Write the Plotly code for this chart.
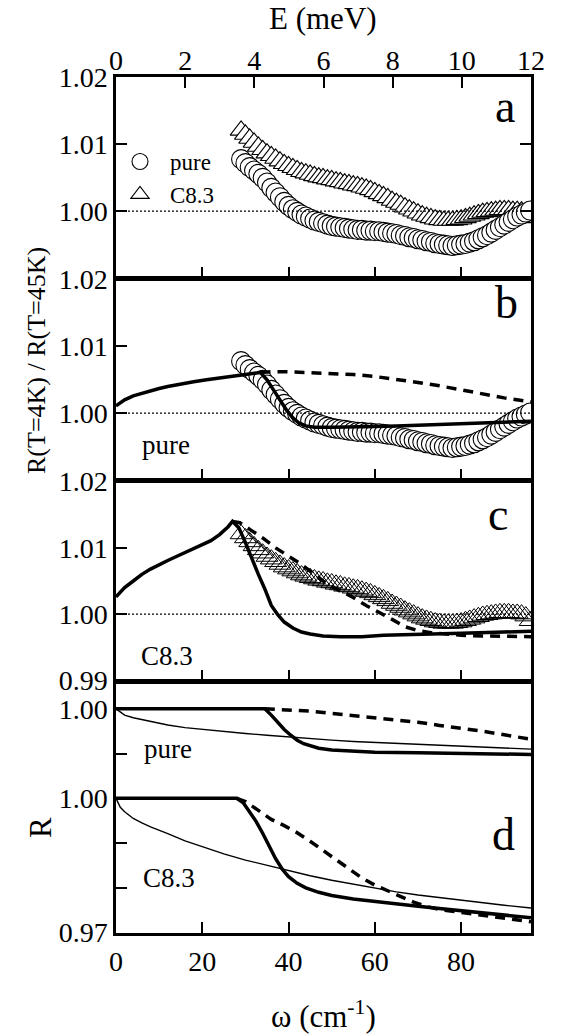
import plotly.graph_objects as go

# ---------------- data ----------------
# experimental ratio R(4K)/R(45K), omega in cm^-1
W_EXP = [29, 30, 31, 32, 33, 34, 35, 36, 37, 38, 39, 40, 41, 42, 43, 44, 45, 46, 47, 48,
         49, 50, 51, 52, 53, 54, 55, 56, 57, 58, 59, 60, 61, 62, 63, 64, 65, 66, 67, 68,
         69, 70, 71, 72, 73, 74, 75, 76, 77, 78, 79, 80, 81, 82, 83, 84, 85, 86, 87, 88,
         89, 90, 91, 92, 93, 94, 95, 96]
R_PURE = [1.0078, 1.0072, 1.0066, 1.0061, 1.0056, 1.0050, 1.0043, 1.0035, 1.0028, 1.0021,
          1.0014, 1.0008, 1.0003, 0.9999, 0.9995, 0.9992, 0.9989, 0.9986, 0.9984, 0.9982,
          0.9980, 0.9978, 0.9977, 0.9976, 0.9975, 0.9974, 0.9973, 0.9972, 0.9972, 0.9971,
          0.9971, 0.9970, 0.9970, 0.9969, 0.9968, 0.9967, 0.9966, 0.9964, 0.9963, 0.9961,
          0.9960, 0.9958, 0.9957, 0.9955, 0.9954, 0.9952, 0.9951, 0.9950, 0.9949, 0.9948,
          0.9949, 0.9950, 0.9951, 0.9953, 0.9955, 0.9958, 0.9961, 0.9964, 0.9968, 0.9972,
          0.9976, 0.9980, 0.9984, 0.9988, 0.9992, 0.9995, 0.9998, 1.0001]
R_C83 = [1.0121, 1.0115, 1.0109, 1.0103, 1.0097, 1.0092, 1.0087, 1.0083, 1.0079, 1.0075,
         1.0071, 1.0068, 1.0065, 1.0062, 1.0059, 1.0057, 1.0055, 1.0053, 1.0051, 1.0050,
         1.0048, 1.0047, 1.0045, 1.0044, 1.0042, 1.0041, 1.0039, 1.0038, 1.0036, 1.0034,
         1.0032, 1.0029, 1.0026, 1.0023, 1.0020, 1.0016, 1.0013, 1.0010, 1.0006, 1.0003,
         1.0000, 0.9997, 0.9994, 0.9992, 0.9990, 0.9988, 0.9987, 0.9986, 0.9986, 0.9986,
         0.9987, 0.9988, 0.9990, 0.9992, 0.9994, 0.9996, 0.9998, 0.9999, 1.0000, 1.0001,
         1.0002, 1.0002, 1.0002, 1.0001, 1.0001, 1.0000, 0.9997, 0.9990]

# panel b model (pure)
W_B_SOLID = [0, 2, 4, 6, 8, 10, 12, 15, 18, 21, 24, 27, 30, 33.5, 35, 36.5, 38, 39.5, 41,
             42.5, 44, 46, 50, 55, 60, 65, 70, 75, 80, 85, 90, 96.2]
R_B_SOLID = [1.0011, 1.0020, 1.0026, 1.0030, 1.0034, 1.0037, 1.0040, 1.0044, 1.0047, 1.0050,
             1.0053, 1.0055, 1.0058, 1.0061, 1.0050, 1.0035, 1.0019, 1.0005, 0.9993,
             0.9985, 0.9981, 0.9979, 0.9979, 0.9979, 0.9980, 0.9981, 0.9982, 0.9983, 0.9985,
             0.9986, 0.9987, 0.9988]
W_B_DASH = [33.5, 36, 40, 45, 50, 55, 60, 65, 70, 75, 80, 85, 90, 96.2]
R_B_DASH = [1.0061, 1.0062, 1.0062, 1.0061, 1.0060, 1.0058, 1.0055, 1.0051, 1.0046, 1.0041,
            1.0035, 1.0029, 1.0023, 1.0017]

# panel c model (C8.3)
W_C_SOLID = [0, 2, 4, 6, 8, 10, 12, 14, 16, 18, 20, 22, 24, 26, 27, 28.5, 30, 31.5, 33,
             34.5, 36, 37.5, 39, 41, 43, 45, 48, 52, 57, 62, 70, 80, 90, 96.2]
R_C_SOLID = [1.0026, 1.0040, 1.0050, 1.0060, 1.0068, 1.0075, 1.0081, 1.0087, 1.0093, 1.0099,
             1.0105, 1.0111, 1.0120, 1.0132, 1.0140, 1.0130, 1.0108, 1.0083, 1.0060,
             1.0038, 1.0013, 0.9999, 0.9988, 0.9979, 0.9973, 0.9970, 0.9967, 0.9966, 0.9966,
             0.9968, 0.9969, 0.9971, 0.9973, 0.9974]
W_C_DASH = [27, 28.7, 31, 34, 37, 40, 43, 46, 49, 52, 55, 58, 61, 64, 67, 70, 73, 76, 80,
            85, 90, 96.2]
R_C_DASH = [1.0140, 1.0138, 1.0128, 1.0115, 1.0100, 1.0088, 1.0075, 1.0060, 1.0045, 1.0035,
            1.0025, 1.0013, 1.0003, 0.9992, 0.9981, 0.9975, 0.9972, 0.9970, 0.9968, 0.9967,
            0.9966, 0.9966]

# panel d: reflectivity R
W_D_PURE_N = [0, 1, 2, 4, 6, 8, 12, 16, 20, 25, 30, 35, 40, 45, 50, 55, 60, 65, 70, 75, 80,
              85, 90, 96.2]
R_D_PURE_N = [1.0000, 0.9992, 0.9986, 0.9980, 0.9976, 0.9972, 0.9964, 0.9958, 0.9954, 0.9949,
              0.9945, 0.9941, 0.9937, 0.9933, 0.9930, 0.9927, 0.9925, 0.9922, 0.9920, 0.9918,
              0.9917, 0.9915, 0.9912, 0.9910]
W_D_PURE_S = [0, 34.5, 36, 37.5, 39, 40.5, 42, 43.5, 45, 47, 50, 55, 60, 70, 80, 90, 96.2]
R_D_PURE_S = [1.0000, 1.0000, 0.9986, 0.9970, 0.9954, 0.9941, 0.9930, 0.9922, 0.9917, 0.9912,
              0.9908, 0.9905, 0.9903, 0.9902, 0.9900, 0.9899, 0.9898]
W_D_PURE_D = [34.5, 40, 45, 50, 55, 60, 65, 70, 75, 80, 85, 90, 96.2]
R_D_PURE_D = [1.0000, 0.9998, 0.9995, 0.9990, 0.9985, 0.9980, 0.9975, 0.9970, 0.9963, 0.9957,
              0.9950, 0.9942, 0.9932]
W_D_C83_N = [0, 0.5, 1, 2, 4, 6, 8, 12, 16, 20, 25, 30, 35, 40, 45, 50, 55, 60, 65, 70, 75,
             80, 85, 90, 96.2]
R_D_C83_N = [1.0000, 0.9988, 0.9980, 0.9970, 0.9955, 0.9945, 0.9936, 0.9921, 0.9905, 0.9892,
             0.9876, 0.9862, 0.9850, 0.9838, 0.9827, 0.9817, 0.9808, 0.9799, 0.9791, 0.9784,
             0.9778, 0.9772, 0.9767, 0.9761, 0.9755]
W_D_C83_S = [0, 28, 29.5, 31, 32.5, 34, 35.5, 37, 38.5, 40, 42, 44, 47, 50, 55, 60, 65, 70,
             75, 80, 85, 90, 96.2]
R_D_C83_S = [1.0000, 1.0000, 0.9990, 0.9970, 0.9948, 0.9922, 0.9893, 0.9865, 0.9842, 0.9825,
             0.9810, 0.9800, 0.9790, 0.9783, 0.9775, 0.9769, 0.9764, 0.9759, 0.9754, 0.9749,
             0.9744, 0.9739, 0.9733]
W_D_C83_D = [28, 30, 33, 36, 39, 42, 45, 48, 51, 54, 57, 60, 63, 66, 69, 72, 76, 80, 85, 90,
             96.2]
R_D_C83_D = [1.0000, 0.9993, 0.9973, 0.9953, 0.9939, 0.9923, 0.9904, 0.9884, 0.9862, 0.9842,
             0.9822, 0.9806, 0.9793, 0.9781, 0.9768, 0.9758, 0.9750, 0.9745, 0.9739, 0.9732,
             0.9724]
PURE_OFFSET = 0.02  # pure curves shifted up in panel d

X_TICKS = [0, 20, 40, 60, 80]
E_TICKS = [0, 2, 4, 6, 8, 10, 12]
W_MAX = 96.2
E_MAX = 12

# ---------------- layout helpers ----------------
FONT = "Liberation Serif, Times New Roman, Times, DejaVu Serif, serif"
WID, HEI = 561, 1036
L, R, T, B = 116, 531, 77, 933
PW, PH = R - L, B - T


def pxx(x):
    return (x - L) / PW


def pxy(y):
    return (B - y) / PH


fig = go.Figure()

THICK = 3.5
THIN = 1.4
DASH = "10px,7px"
MSIZE = 19


def line(x, y, xa, ya, width=THICK, dash="solid"):
    fig.add_trace(go.Scatter(x=x, y=y, mode="lines", xaxis=xa, yaxis=ya, showlegend=False,
                             line=dict(color="black", width=width, dash=dash),
                             hoverinfo="skip"))


# panel a
fig.add_trace(go.Scatter(x=W_EXP, y=R_C83, mode="markers", name="C8.3", xaxis="x", yaxis="y",
                         legendrank=2,
                         marker=dict(symbol="triangle-up", size=MSIZE, color="white",
                                     line=dict(color="black", width=1.1))))
fig.add_trace(go.Scatter(x=W_EXP, y=R_PURE, mode="markers", name="pure", xaxis="x", yaxis="y",
                         legendrank=1,
                         marker=dict(symbol="circle", size=MSIZE, color="white",
                                     line=dict(color="black", width=1.1))))
# invisible trace to register the top energy axis
fig.add_trace(go.Scatter(x=E_TICKS, y=[None] * len(E_TICKS), mode="markers", xaxis="x5",
                         yaxis="y", showlegend=False, hoverinfo="skip"))
# panel b
fig.add_trace(go.Scatter(x=W_EXP, y=R_PURE, mode="markers", xaxis="x2", yaxis="y2",
                         showlegend=False,
                         marker=dict(symbol="circle", size=MSIZE, color="white",
                                     line=dict(color="black", width=1.1))))
line(W_B_DASH, R_B_DASH, "x2", "y2", dash=DASH)
line(W_B_SOLID, R_B_SOLID, "x2", "y2")
# panel c
fig.add_trace(go.Scatter(x=W_EXP, y=R_C83, mode="markers", xaxis="x3", yaxis="y3",
                         showlegend=False,
                         marker=dict(symbol="triangle-up-open", size=MSIZE, color="black",
                                     line=dict(color="black", width=1.0))))
line(W_C_DASH, R_C_DASH, "x3", "y3", dash=DASH)
line(W_C_SOLID, R_C_SOLID, "x3", "y3")
# panel d
line(W_D_PURE_N, [v + PURE_OFFSET for v in R_D_PURE_N], "x4", "y4", width=THIN)
line(W_D_PURE_D, [v + PURE_OFFSET for v in R_D_PURE_D], "x4", "y4", dash=DASH)
line(W_D_PURE_S, [v + PURE_OFFSET for v in R_D_PURE_S], "x4", "y4")
line(W_D_C83_N, R_D_C83_N, "x4", "y4", width=THIN)
line(W_D_C83_D, R_D_C83_D, "x4", "y4", dash=DASH)
line(W_D_C83_S, R_D_C83_S, "x4", "y4")

AX = dict(showline=True, linecolor="black", linewidth=2.5, showgrid=False, zeroline=False,
          ticks="inside", ticklen=11, tickwidth=2, tickcolor="black",
          tickfont=dict(family=FONT, size=28, color="black"))

domains = {
    "": [pxy(278), 1.0],
    "2": [pxy(480), pxy(279)],
    "3": [pxy(681), pxy(481)],
    "4": [0.0, pxy(682)],
}
for k, dom in domains.items():
    fig.layout["xaxis" + k] = dict(AX, domain=[0, 1], anchor="y" + k, range=[0, W_MAX],
                                   tickvals=X_TICKS if k == "4" else X_TICKS[1:],
                                   showticklabels=(k == "4"), mirror=True,
                                   ticklabelstandoff=2)

fig.layout["xaxis5"] = dict(AX, overlaying="x", anchor="y", side="top", range=[0, E_MAX],
                            tickvals=E_TICKS, showline=False, ticklabelstandoff=0)

fig.layout["yaxis"] = dict(AX, domain=domains[""], anchor="x", range=[0.99, 1.0201],
                           tickvals=[1.00, 1.01, 1.02], ticktext=["1.00", "1.01", "1.02"],
                           mirror="ticks")
fig.layout["yaxis2"] = dict(AX, domain=domains["2"], anchor="x2", range=[0.99, 1.0201],
                            tickvals=[1.00, 1.01, 1.02], ticktext=["1.00", "1.01", "1.02"],
                            mirror=True)
fig.layout["yaxis3"] = dict(AX, domain=domains["3"], anchor="x3", range=[0.9899, 1.0201],
                            tickvals=[0.99, 1.00, 1.01, 1.02],
                            ticktext=["0.99", "1.00", "1.01", "1.02"], mirror=True)
fig.layout["yaxis4"] = dict(AX, domain=domains["4"], anchor="x4", range=[0.9699, 1.026],
                            tickvals=[0.97, 1.00, 1.02],
                            ticktext=["0.97", "1.00", "1.00"], mirror=True,
                            minor=dict(tickvals=[0.98, 0.99, 1.01], ticks="inside",
                                       ticklen=11, tickwidth=2, tickcolor="black",
                                       showgrid=False))

shapes = []
for k in ["", "2", "3"]:
    shapes.append(dict(type="line", xref="x%s domain" % k, yref="y" + k, x0=0, x1=1,
                       y0=1.0, y1=1.0, line=dict(color="black", width=1.2, dash="2px,2px")))

ann = []


def text(s, x, y, size, **kw):
    ann.append(dict(text=s, x=pxx(x), y=pxy(y), xref="paper", yref="paper", showarrow=False,
                    xanchor="center", yanchor="middle",
                    font=dict(family=FONT, size=size, color="black"), **kw))


text("a", 505, 106, 46)
text("b", 506, 302, 46)
text("c", 498, 514, 46)
text("d", 503, 834, 46)
text("pure", 166, 445, 27)
text("C8.3", 167, 656, 27)
text("pure", 168, 749, 27)
text("C8.3", 169, 878, 27)
text("E (meV)", 323, 18, 31)
text("ω (cm<sup>-1</sup>)", 323, 1015, 31)
text("R(T=4K) / R(T=45K)", 36, 361, 26, textangle=-90)
text("R", 40, 828, 31, textangle=-90)

fig.update_layout(
    width=WID, height=HEI, margin=dict(l=L, r=WID - R, t=T, b=HEI - B, pad=0),
    paper_bgcolor="white", plot_bgcolor="white",
    font=dict(family=FONT, color="black", size=28),
    shapes=shapes, annotations=ann,
    legend=dict(x=pxx(110), y=pxy(140), xanchor="left", yanchor="top",
                font=dict(family=FONT, size=23, color="black"),
                bgcolor="rgba(0,0,0,0)", itemwidth=50, itemsizing="trace",
                tracegroupgap=0),
)

fig.write_html("out.html")
